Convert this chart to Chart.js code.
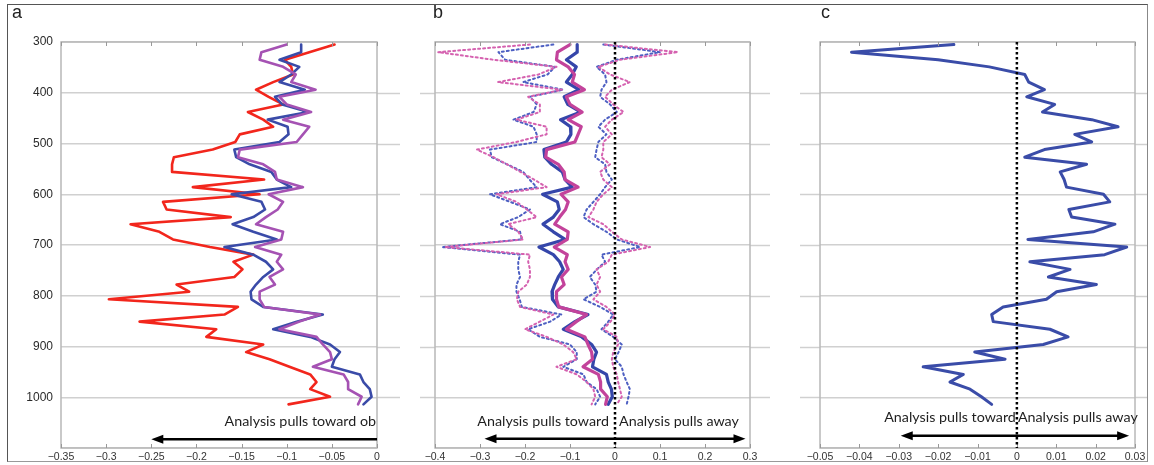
<!DOCTYPE html>
<html>
<head>
<meta charset="utf-8">
<script src="https://cdn.jsdelivr.net/npm/chart.js@4.4.1/dist/chart.umd.min.js"></script>
<style>
  html,body{margin:0;padding:0;background:#fff;}
  #wrap{position:relative;width:1154px;height:465px;overflow:hidden;background:#fff;}
  canvas{position:absolute;top:0;}
  #frame{position:absolute;left:7px;top:4px;width:1139px;height:456px;border:1.5px solid #555;border-right-color:#888;border-bottom-color:#999;pointer-events:none;}
  .lbl{position:absolute;font-family:"Liberation Sans",Arial,sans-serif;font-size:18px;color:#222;}
</style>
</head>
<body>
<div id="wrap">
  <canvas id="ca" width="400" height="465" style="left:0px"></canvas>
  <canvas id="cb" width="385" height="465" style="left:400px"></canvas>
  <canvas id="cc" width="369" height="465" style="left:785px"></canvas>
  <div id="frame"></div>
  <div class="lbl" style="left:12px;top:2px;">a</div>
  <div class="lbl" style="left:433px;top:2px;">b</div>
  <div class="lbl" style="left:821px;top:2px;">c</div>
</div>
<script>
// ---- data ----
const levels = [305,320,335,349,364,379,394,408,423,438,453,467,482,497,512,527,541,556,571,586,600,615,630,645,659,674,689,704,719,733,748,763,778,792,807,822,837,851,866,881,896,911,925,940,955,970,984,999,1014];

// panel a
const redA = [-0.047,-0.075,-0.102,-0.095,-0.093,-0.115,-0.134,-0.120,-0.104,-0.143,-0.126,-0.115,-0.152,-0.157,-0.182,-0.225,-0.227,-0.227,-0.125,-0.204,-0.130,-0.237,-0.233,-0.162,-0.273,-0.241,-0.226,-0.185,-0.137,-0.159,-0.149,-0.158,-0.222,-0.208,-0.297,-0.154,-0.169,-0.263,-0.178,-0.189,-0.126,-0.145,-0.119,-0.097,-0.074,-0.067,-0.074,-0.052,-0.098];
const blueA = [-0.084,-0.084,-0.108,-0.086,-0.095,-0.108,-0.080,-0.113,-0.105,-0.076,-0.121,-0.099,-0.098,-0.108,-0.158,-0.156,-0.141,-0.117,-0.111,-0.095,-0.161,-0.128,-0.124,-0.137,-0.160,-0.137,-0.111,-0.169,-0.137,-0.123,-0.115,-0.126,-0.134,-0.140,-0.139,-0.126,-0.060,-0.089,-0.115,-0.074,-0.052,-0.041,-0.047,-0.050,-0.019,-0.015,-0.008,-0.006,-0.015];
const purpleA = [-0.100,-0.128,-0.130,-0.104,-0.090,-0.095,-0.068,-0.108,-0.100,-0.073,-0.104,-0.075,-0.082,-0.089,-0.152,-0.154,-0.126,-0.113,-0.111,-0.082,-0.120,-0.104,-0.110,-0.123,-0.134,-0.104,-0.106,-0.135,-0.106,-0.111,-0.104,-0.119,-0.113,-0.130,-0.130,-0.125,-0.063,-0.086,-0.108,-0.067,-0.060,-0.052,-0.050,-0.071,-0.037,-0.032,-0.032,-0.017,-0.021];

// panel b (solid lines are the same means as panel a)
const dotPinkL = [-0.189,-0.393,-0.270,-0.130,-0.170,-0.260,-0.118,-0.193,-0.167,-0.167,-0.219,-0.152,-0.152,-0.220,-0.307,-0.270,-0.240,-0.210,-0.180,-0.152,-0.263,-0.219,-0.196,-0.174,-0.237,-0.215,-0.204,-0.378,-0.189,-0.193,-0.189,-0.189,-0.196,-0.215,-0.218,-0.211,-0.137,-0.167,-0.200,-0.152,-0.115,-0.093,-0.085,-0.130,-0.085,-0.063,-0.048,-0.044,-0.052];
const dotBlueL = [-0.137,-0.259,-0.244,-0.133,-0.150,-0.204,-0.115,-0.189,-0.174,-0.181,-0.226,-0.181,-0.174,-0.174,-0.278,-0.274,-0.240,-0.204,-0.190,-0.174,-0.278,-0.233,-0.189,-0.215,-0.256,-0.211,-0.207,-0.385,-0.211,-0.215,-0.215,-0.211,-0.219,-0.219,-0.212,-0.207,-0.119,-0.144,-0.193,-0.167,-0.100,-0.085,-0.085,-0.115,-0.070,-0.063,-0.041,-0.033,-0.044];
const dotBlueR = [-0.026,0.100,0.004,-0.041,-0.022,-0.019,-0.030,-0.033,-0.011,0.004,-0.022,-0.037,-0.019,-0.037,-0.041,-0.044,-0.022,-0.019,-0.007,-0.022,-0.033,-0.048,-0.063,-0.070,-0.048,-0.019,0.004,0.056,-0.030,-0.022,-0.040,-0.056,-0.044,-0.041,-0.070,-0.033,-0.004,-0.015,-0.030,-0.004,0.015,0.008,0.000,0.015,0.019,0.026,0.033,0.030,0.026];
const dotPinkR = [-0.022,0.140,0.011,-0.037,-0.011,0.033,-0.007,-0.022,-0.004,0.019,-0.007,-0.022,-0.007,-0.026,-0.026,-0.030,-0.011,-0.033,-0.026,-0.007,-0.026,-0.041,-0.048,-0.059,-0.026,-0.007,0.015,0.078,-0.007,-0.015,-0.041,-0.033,-0.041,-0.033,-0.048,-0.019,0.000,-0.010,-0.026,0.004,0.007,-0.004,-0.007,-0.004,0.004,0.007,0.011,0.015,0.004];

// panel c
const diffC = [-0.016,-0.042,-0.020,-0.007,0.002,0.003,0.007,0.0025,0.0096,0.0065,0.019,0.0257,0.0147,0.019,0.007,0.002,0.0177,0.011,0.012,0.0126,0.022,0.0236,0.0132,0.0139,0.0249,0.0194,0.0028,0.0279,0.0223,0.0033,0.0135,0.008,0.0202,0.0101,0.0075,-0.0035,-0.0064,-0.006,0.0084,0.013,0.0067,-0.0107,-0.003,-0.0238,-0.0136,-0.017,-0.0119,-0.009,-0.0064];

// axis ranges / ticks
const pressureTicks = [300,400,500,600,700,800,900,1000];
const xRangeA = [-0.35, 0, 0.05];
const xRangeB = [-0.4, 0.3, 0.1];
const xRangeC = [-0.05, 0.03, 0.01];
const textToward = 'Analysis pulls toward';
const textTowardOb = 'Analysis pulls toward ob';
const textAway = 'Analysis pulls away';

// ---- helpers ----
const pts = vals => vals.map((v,i)=>({x:v,y:levels[i]}));
const fmt = v => { const n = Number(v.toFixed(3)); return n===0 ? '0' : String(n).replace('-', '\u2212'); };

const decor = {
  id:'decor',
  afterDraw(chart, args, o){
    const ctx = chart.ctx, ca = chart.chartArea, xs = chart.scales.x, ys = chart.scales.y;
    ctx.save();
    // grid extensions into gaps
    ctx.strokeStyle = '#d0d0d0'; ctx.lineWidth = 1.5;
    pressureTicks.forEach(p=>{
      if (p===300) return;
      const y = Math.round(ys.getPixelForValue(p))+0.5;
      if (o.extL) { ctx.beginPath(); ctx.moveTo(o.extL, y); ctx.lineTo(ca.left, y); ctx.stroke(); }
      if (o.extR) { ctx.beginPath(); ctx.moveTo(ca.right, y); ctx.lineTo(o.extR, y); ctx.stroke(); }
    });
    // box
    ctx.strokeStyle = '#b8b8b8'; ctx.lineWidth = 1.5;
    ctx.strokeRect(ca.left, ca.top, ca.right-ca.left, ca.bottom-ca.top);
    // inner ticks
    ctx.strokeStyle = '#999'; ctx.lineWidth = 1;
    xs.ticks.forEach(t=>{
      const x = Math.round(xs.getPixelForValue(t.value))+0.5;
      ctx.beginPath(); ctx.moveTo(x, ca.top); ctx.lineTo(x, ca.top+4); ctx.stroke();
      ctx.beginPath(); ctx.moveTo(x, ca.bottom); ctx.lineTo(x, ca.bottom-4); ctx.stroke();
    });
    // zero dotted line
    if (o.zero) {
      const x0 = xs.getPixelForValue(0);
      ctx.strokeStyle = '#000'; ctx.lineWidth = 2.5; ctx.setLineDash([2.5,2.5]);
      ctx.beginPath(); ctx.moveTo(x0, ca.top); ctx.lineTo(x0, ca.bottom); ctx.stroke();
      ctx.setLineDash([]);
    }
    // arrow
    const a = o.arrow;
    const ay = ys.getPixelForValue(a.p);
    const x1 = xs.getPixelForValue(a.from), x2 = xs.getPixelForValue(a.to);
    ctx.strokeStyle = '#000'; ctx.fillStyle = '#000'; ctx.lineWidth = 2.5;
    const hl = 12, hw = 4.5;
    const l = a.headL ? x1+hl-2 : x1, r = a.headR ? x2-hl+2 : x2;
    ctx.beginPath(); ctx.moveTo(l, ay); ctx.lineTo(r, ay); ctx.stroke();
    const head = (tipX, dir) => { ctx.beginPath(); ctx.moveTo(tipX, ay); ctx.lineTo(tipX+dir*hl, ay-hw); ctx.lineTo(tipX+dir*hl, ay+hw); ctx.closePath(); ctx.fill(); };
    if (a.headL) head(x1, 1);
    if (a.headR) head(x2, -1);
    // texts
    ctx.font = '14.3px Lato, "Open Sans", sans-serif'; ctx.fillStyle = '#1e1e1e'; ctx.textBaseline = 'middle';
    const ty = ys.getPixelForValue(o.textP);
    const zx = xs.getPixelForValue(0);
    if (o.left) { ctx.textAlign = 'right'; ctx.fillText(o.left, zx - o.gapL, ty); }
    if (o.right) { ctx.textAlign = 'left'; ctx.fillText(o.right, zx + o.gapR, ty); }
    ctx.restore();
  }
};

function makeChart(id, datasets, xr, opts){
  return new Chart(document.getElementById(id), {
    type:'scatter',
    data:{datasets},
    options:{
      responsive:false, animation:false, devicePixelRatio:1,
      layout:{padding:{left:0,right:opts.padR,top:42,bottom:0}},
      plugins:{legend:{display:false}, tooltip:{enabled:false}, decor:opts.decor},
      elements:{point:{radius:0}, line:{tension:0, borderCapStyle:'round', borderJoinStyle:'round'}},
      scales:{
        x:{type:'linear', min:xr[0], max:xr[1],
           grid:{display:false, drawTicks:false, tickLength:0}, border:{display:false},
           ticks:{stepSize:xr[2], padding:3, color:'#333', font:{family:'"Liberation Sans", Arial, sans-serif', size:10.5}, callback:v=>fmt(v), maxRotation:0, autoSkip:false},
           afterFit:s=>{s.height=17;}},
        y:{type:'linear', reverse:true, min:300, max:1100,
           grid:{color:'#d0d0d0', lineWidth:1.5, drawTicks:false, tickLength:0}, border:{display:false},
           ticks:{display:opts.yLabels, stepSize:100, padding:8, color:'#2a2a2a', font:{family:'"Liberation Sans", Arial, sans-serif', size:12}, callback:v=> v>1000 ? '' : String(v)},
           afterFit:s=>{s.width=opts.yW;}}
      }
    },
    plugins:[decor]
  });
}

const solid = (vals, color, w) => ({data:pts(vals), showLine:true, borderColor:color, borderWidth:w, pointRadius:0});
const dotted = (vals, color) => ({data:pts(vals), showLine:true, borderColor:color, borderWidth:2, borderDash:[2,3], pointRadius:0});

makeChart('ca', [
  solid(purpleA, '#a552b3', 2.6),
  solid(blueA, '#3a4ba8', 2.6),
  solid(redA, '#f2261c', 2.6)
], xRangeA, {padR:23, yW:61, yLabels:true,
  decor:{extR:400, zero:false, arrow:{p:1083, from:-0.25, to:0, headL:true, headR:false}, textP:1047, right:null, left:textTowardOb, gapL:1, gapR:0}});

makeChart('cb', [
  dotted(dotPinkL, '#d562b0'),
  dotted(dotBlueL, '#4d5fc2'),
  dotted(dotPinkR, '#d562b0'),
  dotted(dotBlueR, '#4d5fc2'),
  solid(purpleA, '#c3439b', 3.2),
  solid(blueA, '#3546aa', 3.2)
], xRangeB, {padR:35, yW:35, yLabels:false,
  decor:{extL:20, extR:370, zero:true, arrow:{p:1082, from:-0.29, to:0.29, headL:true, headR:true}, textP:1047, left:textToward, right:textAway, gapL:6, gapR:4}});

makeChart('cc', [
  solid(diffC, '#3a4ca8', 3)
], xRangeC, {padR:19, yW:35, yLabels:false,
  decor:{extL:15, extR:362, zero:true, arrow:{p:1076, from:-0.0295, to:0.0285, headL:true, headR:true}, textP:1040, left:textToward, right:textAway, gapL:1, gapR:1}});
</script>
</body>
</html>
